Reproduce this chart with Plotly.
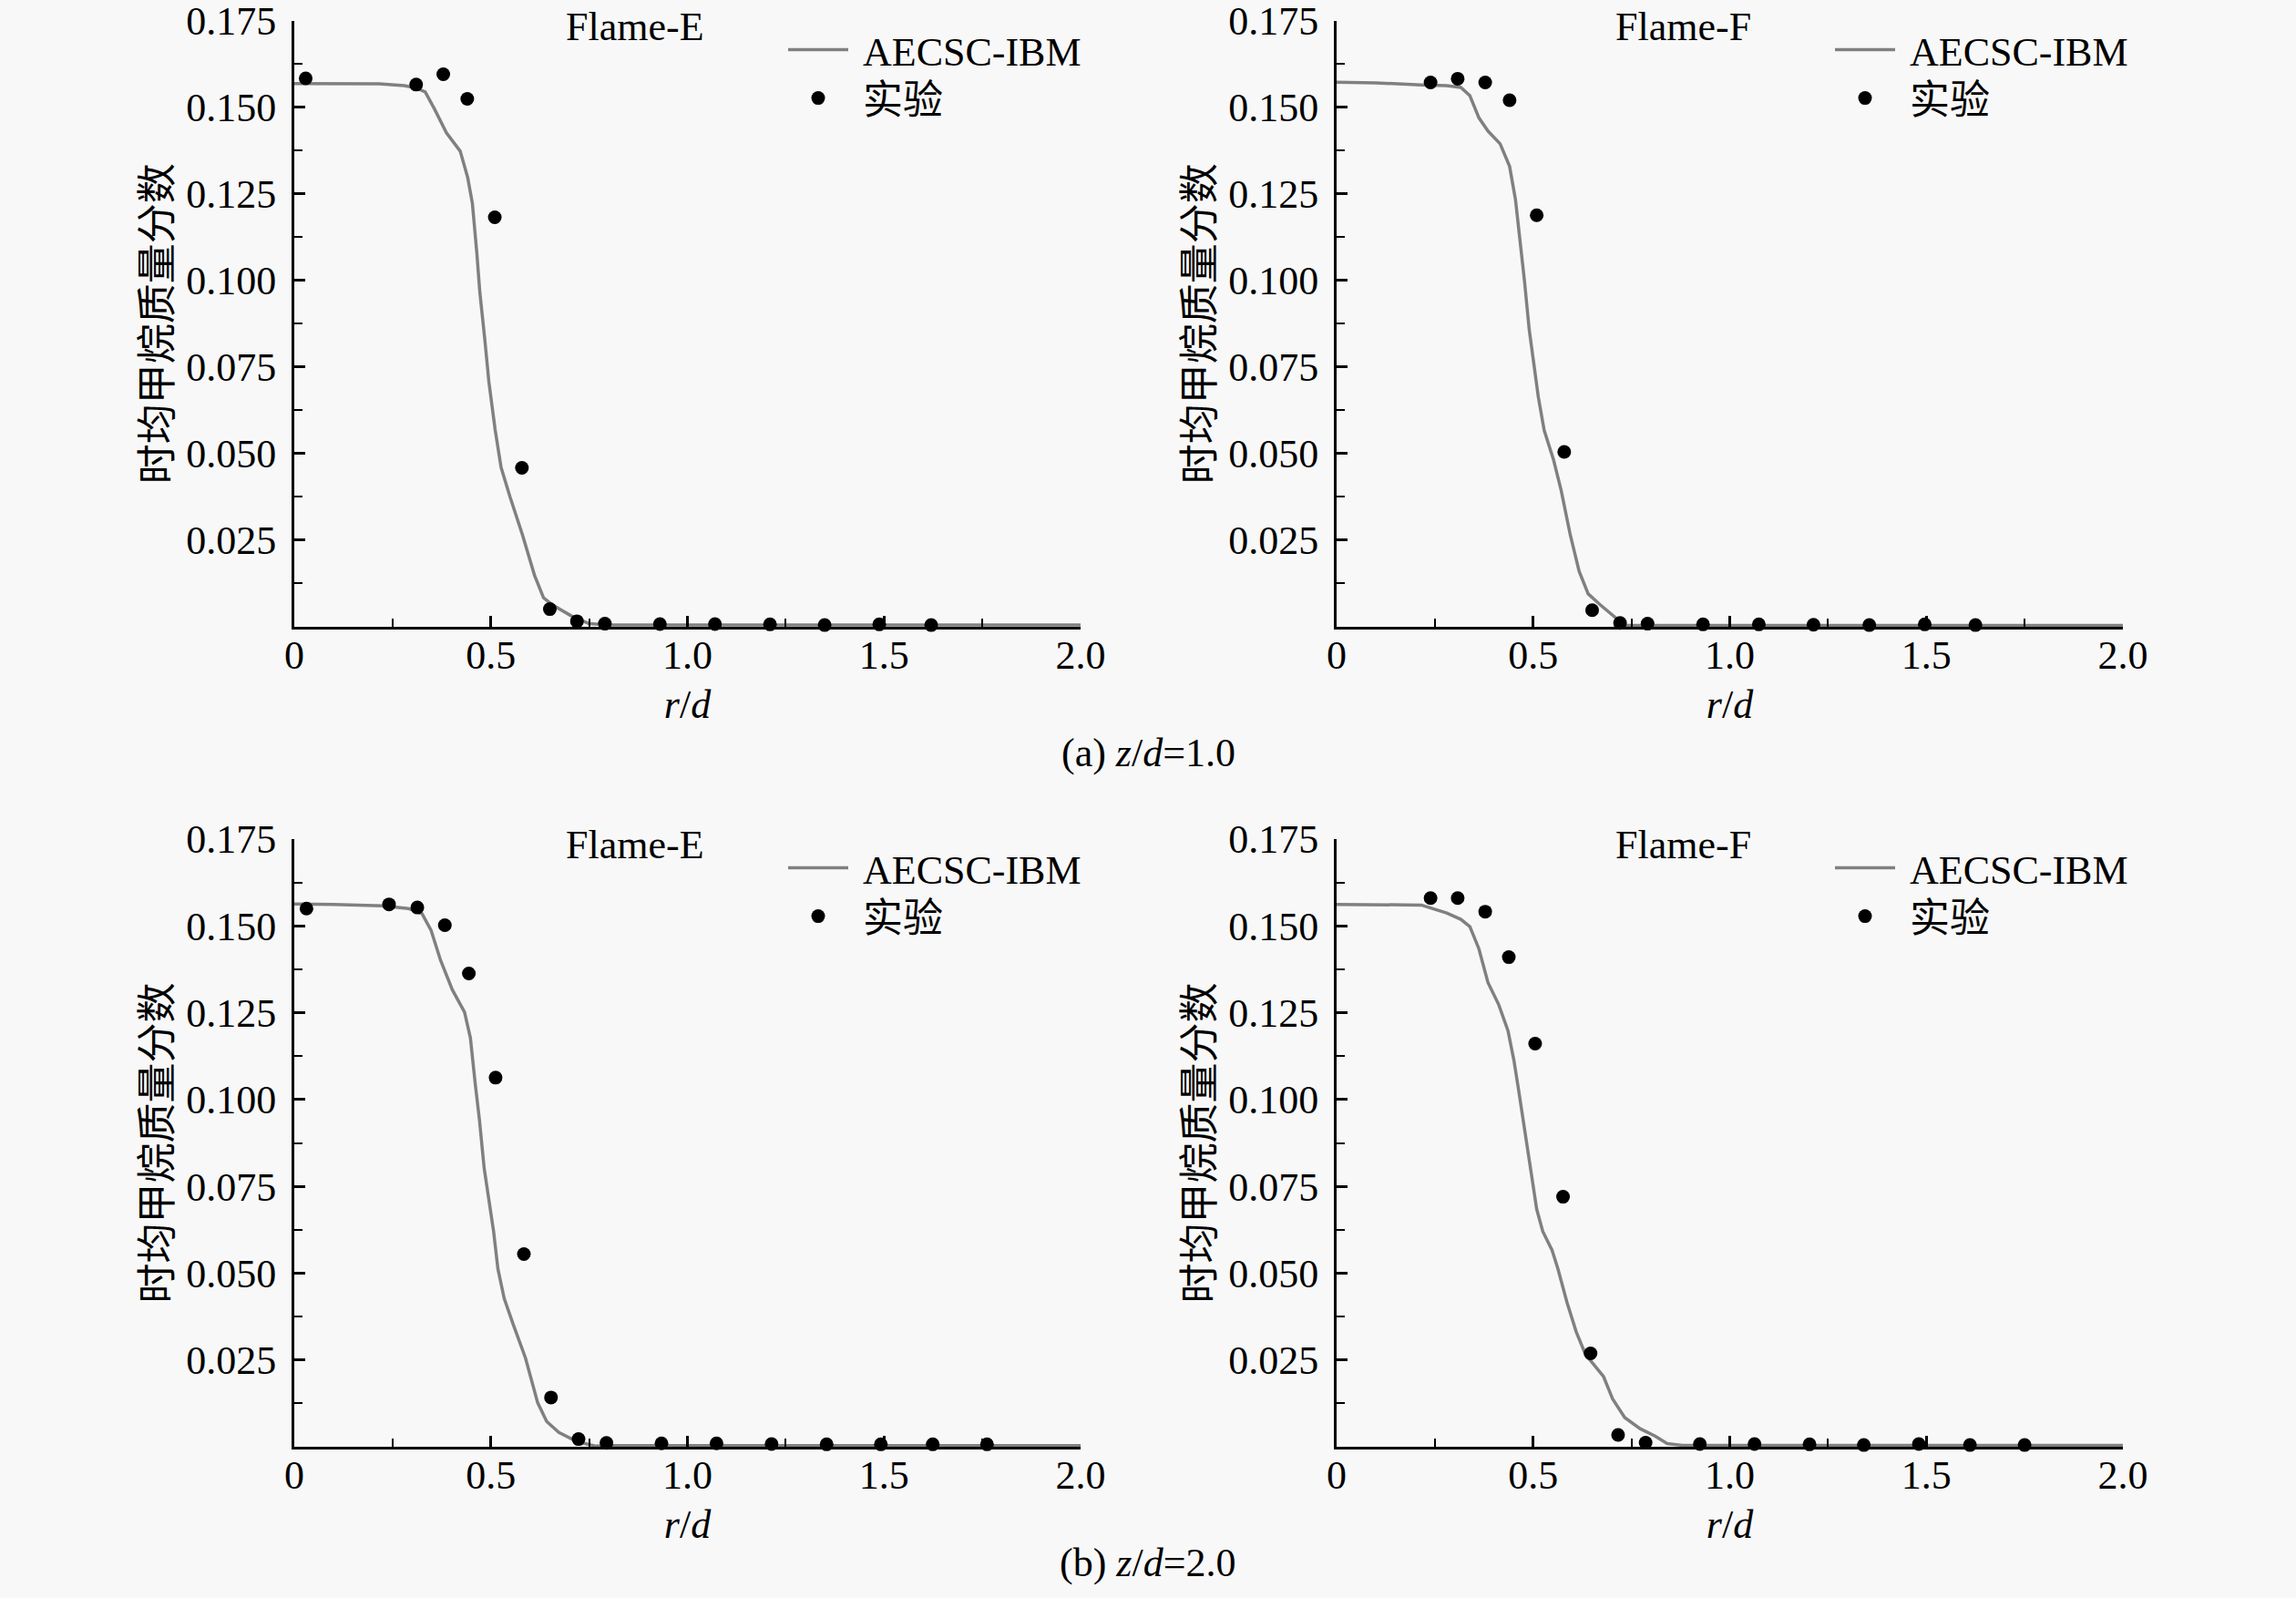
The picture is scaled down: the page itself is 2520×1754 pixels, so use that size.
import plotly.graph_objects as go

# AECSC-IBM 计算结果与实验, 时均甲烷质量分数 vs r/d

# (a) z/d=1.0, Flame-E
e1_sim_x = [0, 0.1, 0.216, 0.28, 0.310, 0.333, 0.356, 0.387, 0.422, 0.441, 0.453, 0.464, 0.472,
            0.484, 0.495, 0.511, 0.526, 0.549, 0.580, 0.611, 0.634, 0.657, 0.704, 0.750, 0.8,
            1.0, 1.5, 2.0]
e1_sim_y = [0.1568, 0.1568, 0.1567, 0.1562, 0.1555, 0.1544, 0.1496, 0.1426, 0.1373, 0.1297,
            0.1222, 0.1083, 0.0965, 0.0836, 0.0707, 0.0568, 0.0460, 0.0374, 0.0267, 0.0149,
            0.0084, 0.0063, 0.0032, 0.0009, 0.0005, 0.0005, 0.0005, 0.0005]
e1_exp_x = [0.029, 0.310, 0.379, 0.440, 0.510, 0.579, 0.650, 0.719, 0.790, 0.930, 1.070,
            1.210, 1.349, 1.488, 1.620]
e1_exp_y = [0.1583, 0.1565, 0.1595, 0.1524, 0.1182, 0.0459, 0.0051, 0.0016, 0.0009, 0.0008,
            0.0008, 0.0007, 0.0005, 0.0007, 0.0005]

# (a) z/d=1.0, Flame-F
f1_sim_x = [0, 0.1, 0.2155, 0.28, 0.316, 0.339, 0.362, 0.385, 0.416, 0.440, 0.455, 0.467, 0.478,
            0.490, 0.501, 0.513, 0.528, 0.552, 0.571, 0.594, 0.617, 0.640, 0.671, 0.710, 0.733,
            0.8, 1.0, 1.5, 2.0]
f1_sim_y = [0.1572, 0.1570, 0.1564, 0.1562, 0.1557, 0.1533, 0.1469, 0.1431, 0.1394, 0.1329,
            0.1233, 0.1115, 0.0997, 0.0857, 0.0760, 0.0664, 0.0567, 0.0481, 0.0395, 0.0267,
            0.0160, 0.0095, 0.0063, 0.0025, 0.0004, 0.0004, 0.0004, 0.0004, 0.0004]
f1_exp_x = [0.239, 0.308, 0.378, 0.440, 0.509, 0.579, 0.650, 0.721, 0.791, 0.932, 1.074,
            1.213, 1.355, 1.496, 1.625]
f1_exp_y = [0.1571, 0.1582, 0.1571, 0.1520, 0.1188, 0.0505, 0.0048, 0.0011, 0.0009, 0.0007,
            0.0007, 0.0006, 0.0005, 0.0007, 0.0005]

# (b) z/d=2.0, Flame-E
e2_sim_x = [0, 0.1, 0.225, 0.29, 0.325, 0.348, 0.372, 0.402, 0.433, 0.448, 0.460, 0.471, 0.483,
            0.495, 0.507, 0.518, 0.534, 0.557, 0.588, 0.619, 0.642, 0.673, 0.719, 0.765, 0.8,
            1.0, 1.5, 2.0]
e2_sim_y = [0.1563, 0.1562, 0.1558, 0.1550, 0.1535, 0.1487, 0.1401, 0.1316, 0.1252, 0.1177,
            0.1048, 0.0941, 0.0802, 0.0705, 0.0620, 0.0512, 0.0427, 0.0352, 0.0256, 0.0127,
            0.0073, 0.0041, 0.0015, 0.0002, 0.0003, 0.0003, 0.0003, 0.0003]
e2_exp_x = [0.031, 0.241, 0.313, 0.383, 0.444, 0.512, 0.584, 0.653, 0.723, 0.794, 0.934,
            1.074, 1.214, 1.354, 1.492, 1.624, 1.762]
e2_exp_y = [0.1550, 0.1562, 0.1553, 0.1502, 0.1363, 0.1063, 0.0555, 0.0142, 0.0022, 0.0011,
            0.0010, 0.0010, 0.0008, 0.0007, 0.0007, 0.0007, 0.0007]

# (b) z/d=2.0, Flame-F
f2_sim_x = [0, 0.1, 0.2155, 0.28, 0.316, 0.339, 0.362, 0.385, 0.4125, 0.436, 0.451, 0.463,
            0.474, 0.486, 0.4975, 0.509, 0.5245, 0.548, 0.563, 0.586, 0.6095, 0.633, 0.656,
            0.679, 0.702, 0.733, 0.772, 0.810, 0.841, 0.880, 1.0, 1.5, 2.0]
f2_sim_y = [0.1562, 0.1562, 0.1560, 0.1537, 0.1519, 0.1498, 0.1434, 0.1337, 0.1273, 0.1198,
            0.1113, 0.1027, 0.0941, 0.0855, 0.0770, 0.0684, 0.0620, 0.0566, 0.0512, 0.0416,
            0.0331, 0.0266, 0.0234, 0.0202, 0.0138, 0.0084, 0.0052, 0.0031, 0.0009, 0.0004,
            0.0004, 0.0004, 0.0004]
f2_exp_x = [0.239, 0.308, 0.378, 0.438, 0.505, 0.576, 0.646, 0.716, 0.786, 0.924, 1.063,
            1.203, 1.341, 1.481, 1.611, 1.750]
f2_exp_y = [0.1580, 0.1580, 0.1541, 0.1410, 0.1161, 0.0720, 0.0269, 0.0034, 0.0012, 0.0008,
            0.0008, 0.0007, 0.0005, 0.0008, 0.0005, 0.0005]

x_ticks = [0, 0.5, 1.0, 1.5, 2.0]
x_tick_text = ["0", "0.5", "1.0", "1.5", "2.0"]
y_ticks = [0.025, 0.050, 0.075, 0.100, 0.125, 0.150, 0.175]
y_tick_text = ["0.025", "0.050", "0.075", "0.100", "0.125", "0.150", "0.175"]
x_minor = [0.25, 0.75, 1.25, 1.75]
y_minor = [0.0125, 0.0375, 0.0625, 0.0875, 0.1125, 0.1375, 0.1625]

flame_names = ["Flame-E", "Flame-F", "Flame-E", "Flame-F"]
sim_name = "\u00a0AECSC-IBM"
exp_name = "\u00a0实验"
y_title = "时均甲烷质量分数"
captions = ["(a) <i>z</i>/<i>d</i>=1.0", "(b) <i>z</i>/<i>d</i>=2.0"]

FONT = "Liberation Serif, Noto Sans CJK SC, serif"
BG = "#f8f8f8"
W, H = 2520, 1754

panels = [
    (e1_sim_x, e1_sim_y, e1_exp_x, e1_exp_y),
    (f1_sim_x, f1_sim_y, f1_exp_x, f1_exp_y),
    (e2_sim_x, e2_sim_y, e2_exp_x, e2_exp_y),
    (f2_sim_x, f2_sim_y, f2_exp_x, f2_exp_y),
]
# 像素位置 -> paper 坐标
x_doms = [[323 / W, 1186 / W], [1467 / W, 2330 / W]] * 2
y_doms = [[1 - 688 / H, 1 - 22.5 / H]] * 2 + [[1 - 1588 / H, 1 - 921 / H]] * 2
leg_x = [860 / W, 2009 / W, 860 / W, 2009 / W]
leg_sim_y = [1 - 55 / H, 1 - 55 / H, 1 - 953 / H, 1 - 953 / H]
leg_exp_y = [1 - 108 / H, 1 - 108 / H, 1 - 1006 / H, 1 - 1006 / H]
title_x = [0.433, 0.441, 0.433, 0.441]

fig = go.Figure()
layout = dict(
    width=W, height=H, autosize=False, showlegend=True,
    margin=dict(l=0, r=0, t=0, b=0, autoexpand=False),
    paper_bgcolor=BG, plot_bgcolor=BG,
    font=dict(family=FONT, size=44, color="black"),
    annotations=[],
)


def legend_box(x, y):
    return dict(x=x, y=y, xanchor="left", yanchor="middle", visible=True,
                bgcolor="rgba(0,0,0,0)", font=dict(size=44), itemwidth=66,
                tracegroupgap=0, itemsizing="trace")


for i, (sx, sy, ex, ey) in enumerate(panels):
    n = "" if i == 0 else str(i + 1)
    leg_a = "legend" + ("" if i == 0 else str(2 * i + 1))
    leg_b = "legend" + str(2 * i + 2)
    fig.add_trace(go.Scatter(x=sx, y=sy, mode="lines", name=sim_name, showlegend=True,
                             line=dict(color="#808080", width=3.5),
                             xaxis="x" + n, yaxis="y" + n, legend=leg_a, cliponaxis=False))
    fig.add_trace(go.Scatter(x=ex, y=ey, mode="markers", name=exp_name, showlegend=True,
                             marker=dict(color="black", size=15),
                             xaxis="x" + n, yaxis="y" + n, legend=leg_b, cliponaxis=False))
    layout["xaxis" + n] = dict(
        domain=x_doms[i], anchor="y" + n, range=[0, 2.0], automargin=False,
        tickmode="array", tickvals=x_ticks, ticktext=x_tick_text,
        ticks="inside", ticklen=12, tickwidth=2.5, tickcolor="black",
        minor=dict(tickmode="array", tickvals=x_minor, ticks="inside", ticklen=9,
                   tickwidth=2, tickcolor="black"),
        showline=True, linecolor="black", linewidth=3,
        showgrid=False, zeroline=False, ticklabelstandoff=-10, ticklabeloverflow="allow",
        tickfont=dict(size=44),
        title=dict(text="<i>r</i>/<i>d</i>", font=dict(size=44), standoff=15),
    )
    layout["yaxis" + n] = dict(
        domain=y_doms[i], anchor="x" + n, range=[0, 0.175], automargin=False,
        tickmode="array", tickvals=y_ticks, ticktext=y_tick_text,
        ticks="inside", ticklen=12, tickwidth=2.5, tickcolor="black",
        minor=dict(tickmode="array", tickvals=y_minor, ticks="inside", ticklen=9,
                   tickwidth=2, tickcolor="black"),
        showline=True, linecolor="black", linewidth=3,
        showgrid=False, zeroline=False, ticklabelstandoff=8, ticklabeloverflow="allow",
        tickfont=dict(size=44),
        title=dict(text=y_title, font=dict(size=44), standoff=2),
    )
    layout[leg_a] = legend_box(leg_x[i], leg_sim_y[i])
    layout[leg_b] = legend_box(leg_x[i], leg_exp_y[i])
    layout["annotations"].append(dict(
        text=flame_names[i], xref="x" + n + " domain", yref="y" + n + " domain",
        x=title_x[i], y=0.99, xanchor="center", yanchor="middle", showarrow=False,
        font=dict(size=44),
    ))

for cap, cy in zip(captions, [1 - 826 / H, 1 - 1715 / H]):
    layout["annotations"].append(dict(
        text=cap, xref="paper", yref="paper", x=0.5, y=cy,
        xanchor="center", yanchor="middle", showarrow=False, font=dict(size=44),
    ))

fig.update_layout(**layout)
fig.write_html(
    "out.html",
    config={"displayModeBar": False},
    post_script="document.body.style.margin='0';document.body.style.background='%s';" % BG,
)
